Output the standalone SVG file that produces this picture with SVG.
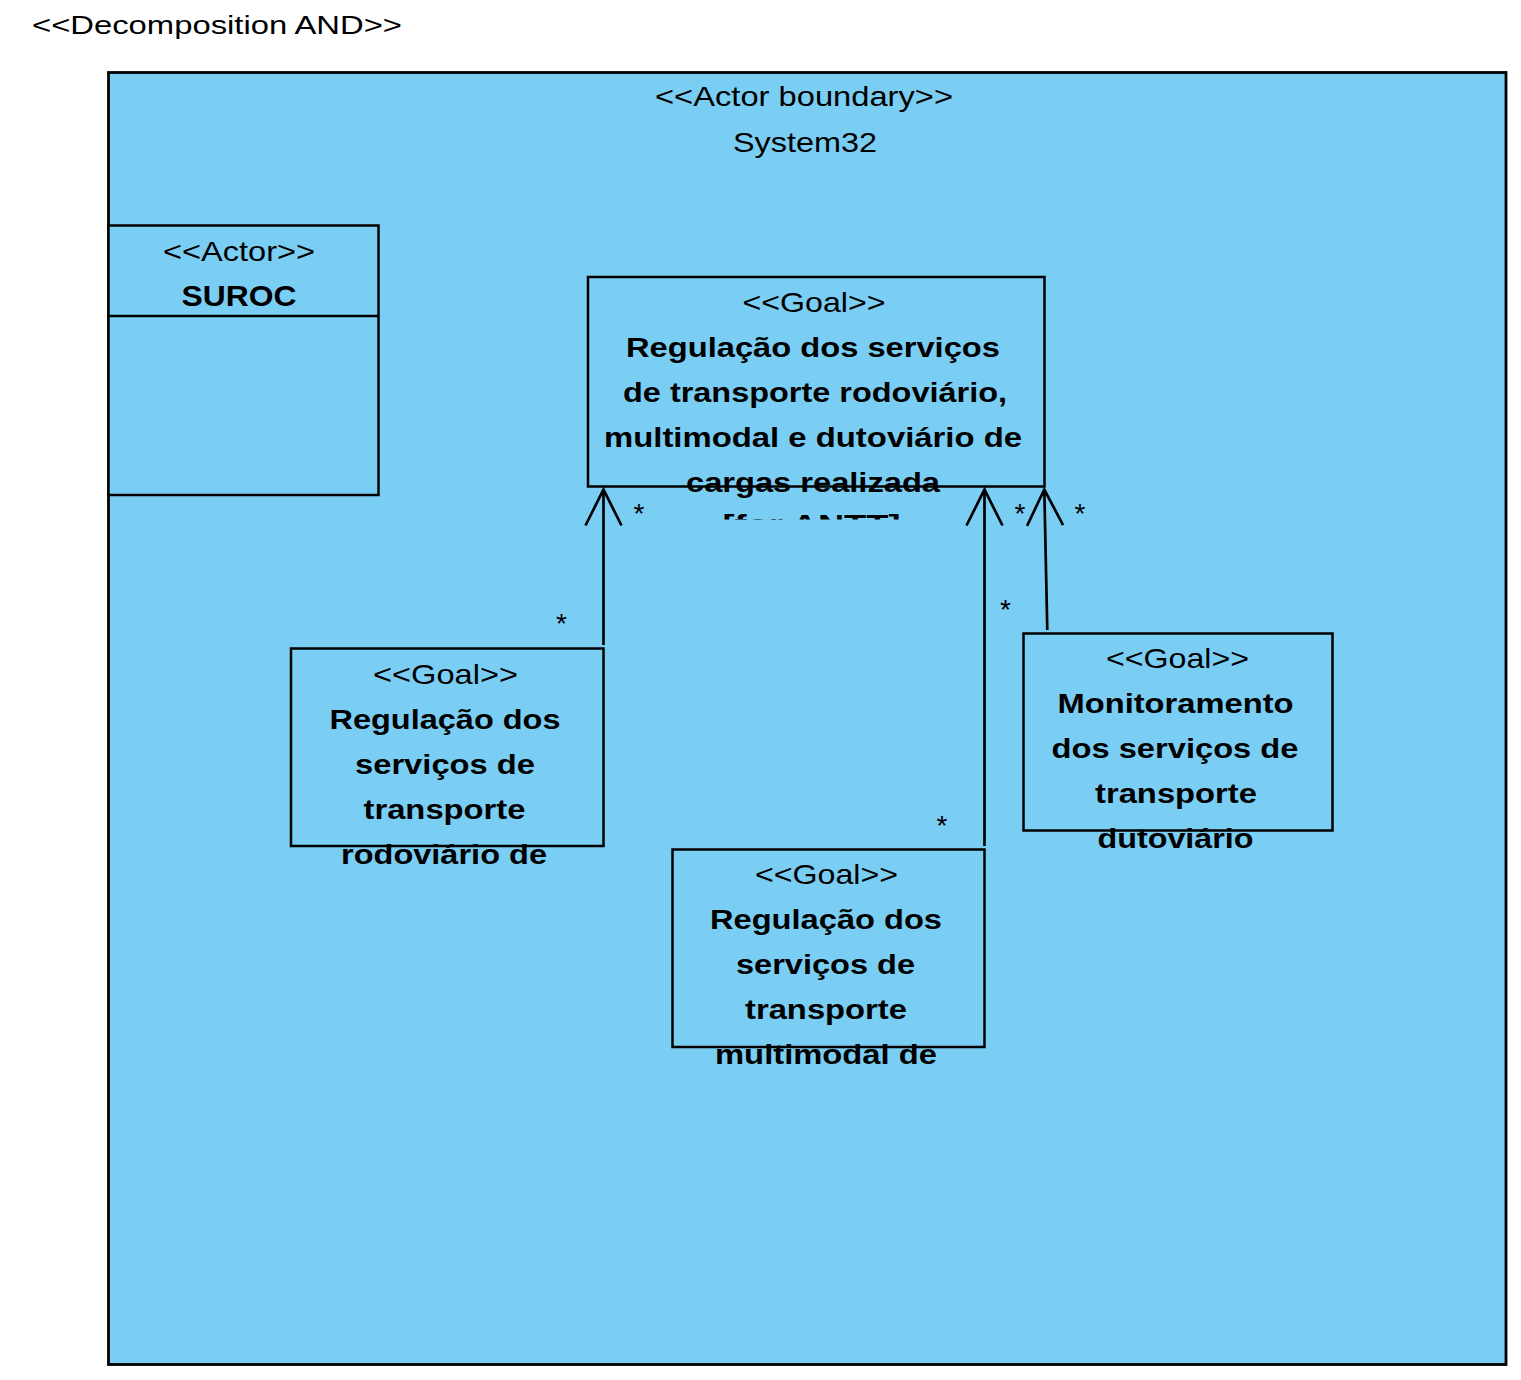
<svg xmlns="http://www.w3.org/2000/svg" width="1521" height="1380" viewBox="0 0 1521 1380">
<style>
text{font-family:"Liberation Sans",Arial,sans-serif;fill:#000;text-anchor:middle}
.st{font-size:28.5px}
.nm{font-size:27px;font-weight:bold}
.star{font-size:28px}
.box{fill:#7ACEF4;stroke:#000;stroke-width:2.5}
.conn{fill:none;stroke:#000;stroke-width:2.7}
</style>
<defs>
<marker id="open" markerUnits="userSpaceOnUse" viewBox="-40 -22 44 44" markerWidth="44" markerHeight="44" refX="0" refY="0" orient="auto">
<path d="M-36,-18 L0,0 L-36,18" fill="none" stroke="#000" stroke-width="2.7"/>
</marker>
<clipPath id="clipMain"><rect x="580" y="270" width="470" height="249.5"/></clipPath>
</defs>
<rect width="1521" height="1380" fill="#fff"/>
<text x="217" y="33.5" style="font-size:26.5px" textLength="370" lengthAdjust="spacingAndGlyphs">&lt;&lt;Decomposition AND&gt;&gt;</text>

<g id="boundary">
<rect x="108.5" y="72.5" width="1397.5" height="1292" fill="#7ACEF4" stroke="#000" stroke-width="2.8"/>
<text class="st" x="804" y="106" textLength="298" lengthAdjust="spacingAndGlyphs">&lt;&lt;Actor boundary&gt;&gt;</text>
<text class="st" x="805" y="152" textLength="144" lengthAdjust="spacingAndGlyphs">System32</text>
</g>

<g id="actor-suroc">
<rect class="box" x="108.5" y="225.5" width="270" height="269.5"/>
<line x1="108.5" y1="316" x2="378.5" y2="316" stroke="#000" stroke-width="2.5"/>
<text class="st" x="239" y="260.5" textLength="152" lengthAdjust="spacingAndGlyphs">&lt;&lt;Actor&gt;&gt;</text>
<text x="239" y="306" style="font-size:30px;font-weight:bold" textLength="115" lengthAdjust="spacingAndGlyphs">SUROC</text>
</g>

<g id="goal-main">
<rect class="box" x="588" y="277" width="456.5" height="209.5"/>
<g clip-path="url(#clipMain)">
<text class="st" x="814" y="311.5" textLength="143" lengthAdjust="spacingAndGlyphs">&lt;&lt;Goal&gt;&gt;</text>
<text class="nm" x="813" y="357" textLength="374" lengthAdjust="spacingAndGlyphs">Regulação dos serviços</text>
<text class="nm" x="815" y="402" textLength="384" lengthAdjust="spacingAndGlyphs">de transporte rodoviário,</text>
<text class="nm" x="813" y="447" textLength="418" lengthAdjust="spacingAndGlyphs">multimodal e dutoviário de</text>
<text class="nm" x="813" y="492" textLength="254" lengthAdjust="spacingAndGlyphs">cargas realizada</text>
<text class="nm" x="811.5" y="534" textLength="178" lengthAdjust="spacingAndGlyphs">[for ANTT]</text>
</g>
</g>

<g id="goal-rodoviario">
<rect class="box" x="291" y="648.5" width="312.5" height="197.5"/>
<text class="st" x="445.5" y="683.5" textLength="145" lengthAdjust="spacingAndGlyphs">&lt;&lt;Goal&gt;&gt;</text>
<text class="nm" x="445" y="728.5" textLength="231" lengthAdjust="spacingAndGlyphs">Regulação dos</text>
<text class="nm" x="445" y="773.5" textLength="180" lengthAdjust="spacingAndGlyphs">serviços de</text>
<text class="nm" x="444.5" y="818.5" textLength="162" lengthAdjust="spacingAndGlyphs">transporte</text>
<text class="nm" x="444" y="863.5" textLength="206" lengthAdjust="spacingAndGlyphs">rodoviário de</text>
</g>

<g id="goal-multimodal">
<rect class="box" x="672.5" y="849.5" width="312" height="197.5"/>
<text class="st" x="826.5" y="884" textLength="143" lengthAdjust="spacingAndGlyphs">&lt;&lt;Goal&gt;&gt;</text>
<text class="nm" x="826" y="929" textLength="232" lengthAdjust="spacingAndGlyphs">Regulação dos</text>
<text class="nm" x="825.5" y="974" textLength="179" lengthAdjust="spacingAndGlyphs">serviços de</text>
<text class="nm" x="826" y="1019" textLength="162" lengthAdjust="spacingAndGlyphs">transporte</text>
<text class="nm" x="826" y="1064" textLength="222" lengthAdjust="spacingAndGlyphs">multimodal de</text>
</g>

<g id="goal-monitoramento">
<rect class="box" x="1023.5" y="633.5" width="309" height="197"/>
<text class="st" x="1177.5" y="668" textLength="143" lengthAdjust="spacingAndGlyphs">&lt;&lt;Goal&gt;&gt;</text>
<text class="nm" x="1175.5" y="713" textLength="236" lengthAdjust="spacingAndGlyphs">Monitoramento</text>
<text class="nm" x="1175" y="758" textLength="247" lengthAdjust="spacingAndGlyphs">dos serviços de</text>
<text class="nm" x="1176" y="803" textLength="162" lengthAdjust="spacingAndGlyphs">transporte</text>
<text class="nm" x="1175.5" y="848" textLength="156" lengthAdjust="spacingAndGlyphs">dutoviário</text>
</g>

<g id="connectors">
<line class="conn" x1="603.5" y1="645" x2="603.5" y2="489.5" marker-end="url(#open)"/>
<line class="conn" x1="984.5" y1="846" x2="984.5" y2="489.5" marker-end="url(#open)"/>
<line class="conn" x1="1047.3" y1="630" x2="1044.3" y2="489.5" marker-end="url(#open)"/>
<text class="star" x="639" y="523">*</text>
<text class="star" x="561.5" y="633">*</text>
<text class="star" x="1020" y="523">*</text>
<text class="star" x="1005.5" y="619">*</text>
<text class="star" x="942" y="835">*</text>
<text class="star" x="1080" y="523">*</text>
</g>
</svg>
